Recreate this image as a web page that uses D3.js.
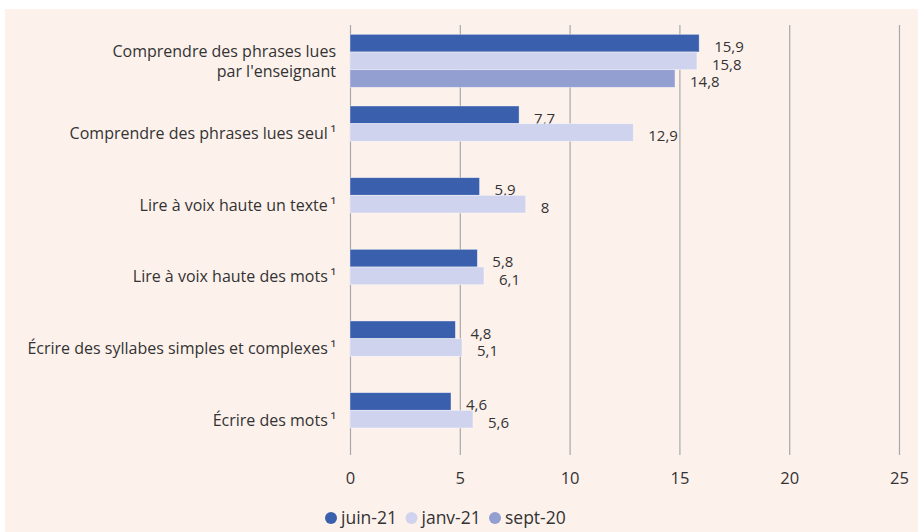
<!DOCTYPE html>
<html><head><meta charset="utf-8">
<script src="https://cdn.jsdelivr.net/npm/d3@7"></script>
<style>
html,body{margin:0;padding:0;background:#fff;}
svg{display:block;}
text{font-family:"Open Sans",sans-serif;fill:#333;}
</style></head>
<body>
<svg id="chart" width="918" height="532"></svg>
<script>
const categories = [
  ["Comprendre des phrases lues", "par l'enseignant"],
  ["Comprendre des phrases lues seul\u2009¹"],
  ["Lire à voix haute un texte\u2009¹"],
  ["Lire à voix haute des mots\u2009¹"],
  ["Écrire des syllabes simples et complexes\u2009¹"],
  ["Écrire des mots\u2009¹"]
];
const seriesNames = ["juin-21", "janv-21", "sept-20"];
const juin21 = [15.9, 7.7, 5.9, 5.8, 4.8, 4.6];
const janv21 = [15.8, 12.9, 8, 6.1, 5.1, 5.6];
const sept20 = [14.8, null, null, null, null, null];
const colors = ["#3a5fad", "#d0d3ee", "#939fd1"];
const xTicks = [0, 5, 10, 15, 20, 25];

const seriesValues = [juin21, janv21, sept20];
const svg = d3.select("#chart");
svg.append("rect").attr("x", 5).attr("y", 9).attr("width", 913).attr("height", 523).attr("fill", "#fdf1ec");

const x = d3.scaleLinear().domain([0, 25]).range([350, 899]);
const y = d3.scaleBand().domain(d3.range(categories.length)).range([25, 455]).paddingInner(0.26).paddingOuter(0.13);
const ySub = d3.scaleBand().domain(seriesNames).range([0, y.bandwidth()]);

// grid
const xAxis = d3.axisBottom(x).tickValues(xTicks).tickSize(430).tickFormat(d => d);
const gx = svg.append("g").attr("transform", "translate(0,25)").call(xAxis);
gx.select(".domain").remove();
gx.selectAll(".tick line").attr("stroke", "#a8a8a8").attr("stroke-width", 1.2);
gx.selectAll(".tick text").attr("dy", "1.55em").style("font-size", "16.5px").attr("fill", "#333");

// bars
const bars = svg.append("g");
categories.forEach((c, i) => {
  seriesNames.forEach((s, j) => {
    const v = seriesValues[j][i];
    if (v == null) return;
    const yy = y(i) + ySub(s);
    bars.append("rect").attr("x", x(0)).attr("y", yy).attr("width", x(v) - x(0)).attr("height", ySub.bandwidth())
      .attr("fill", colors[j]).attr("stroke", "rgba(255,255,255,0.5)").attr("stroke-width", 0.8);
    bars.append("text").attr("x", x(v) + 15).attr("y", yy + ySub.bandwidth() / 2 + 3.5).attr("dy", "0.35em")
      .style("font-size", "15px").text(String(v).replace(".", ","));
  });
});

// category labels
categories.forEach((lines, i) => {
  const cy = y(i) + y.bandwidth() / 2;
  const t = svg.append("text").attr("text-anchor", "end").style("font-size", "16px");
  lines.forEach((l, k) => {
    t.append("tspan").attr("x", 336).attr("y", cy + 1 + (k - (lines.length - 1) / 2) * 20).attr("dy", "0.35em").text(l);
  });
});

// legend
const legendX = [331, 411.5, 495];
seriesNames.forEach((s, j) => {
  const g = svg.append("g").attr("transform", `translate(${legendX[j]},518)`);
  g.append("circle").attr("r", 6).attr("fill", colors[j]);
  g.append("text").attr("x", 10).attr("dy", "0.35em").style("font-size", "17.5px").text(s);
});
</script>
</body></html>
